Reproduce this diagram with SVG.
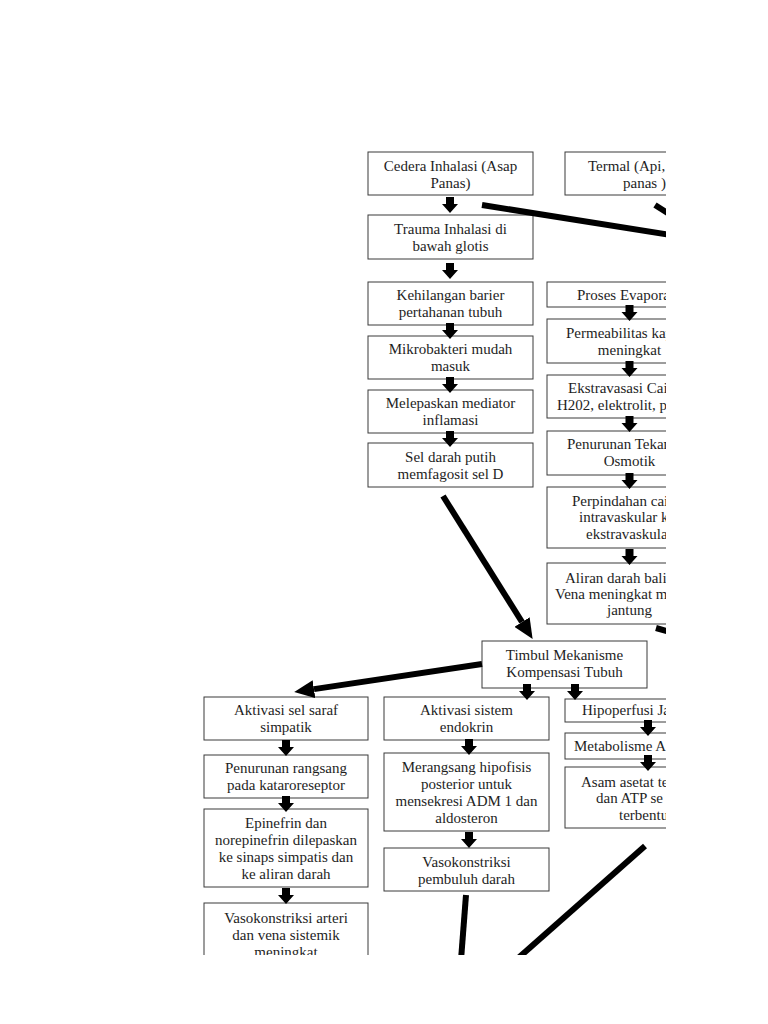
<svg xmlns="http://www.w3.org/2000/svg" xmlns:xlink="http://www.w3.org/1999/xlink" width="768" height="1024" viewBox="0 0 768 1024">
<style>
.box{fill:#fff;stroke:#3a3a3a;stroke-width:1}
text{font-family:"Liberation Serif","Times New Roman",serif;font-size:15px;fill:#1e1e1e}
.c{text-anchor:middle}
.ln{stroke:#000;stroke-width:6;fill:none}
.ba{fill:#000}
</style>
<defs>
<clipPath id="clip"><rect x="0" y="0" width="666" height="955"/></clipPath>
<path id="ba" d="M-4,0 H4 V7 H8 L0,16 L-8,7 H-4 Z"/>
<marker id="ah" viewBox="0 -9 20 18" refX="0" refY="0" markerWidth="20" markerHeight="18" markerUnits="userSpaceOnUse" orient="auto">
<path d="M0,-9 L20,0 L0,9 Z" fill="#000"/>
</marker>
</defs>
<rect width="768" height="1024" fill="#fff"/>
<g clip-path="url(#clip)">
<g id="n1"><rect class="box" x="368" y="152" width="165" height="43"/><text class="c" x="450.5" y="171">Cedera Inhalasi (Asap</text><text class="c" x="450.5" y="188">Panas)</text></g>
<g id="n2"><rect class="box" x="565" y="152" width="165" height="43"/><text x="588" y="171">Termal (Api,</text><text x="623" y="188">panas )</text></g>
<g id="n3"><rect class="box" x="368" y="215" width="165" height="44"/><text class="c" x="450.5" y="234">Trauma Inhalasi di</text><text class="c" x="450.5" y="251">bawah glotis</text></g>
<g id="n4"><rect class="box" x="368" y="282" width="165" height="43"/><text class="c" x="450.5" y="300">Kehilangan barier</text><text class="c" x="450.5" y="317">pertahanan tubuh</text></g>
<g id="n5"><rect class="box" x="368" y="336" width="165" height="43"/><text class="c" x="450.5" y="354">Mikrobakteri mudah</text><text class="c" x="450.5" y="371">masuk</text></g>
<g id="n6"><rect class="box" x="368" y="390" width="165" height="43"/><text class="c" x="450.5" y="408">Melepaskan mediator</text><text class="c" x="450.5" y="425">inflamasi</text></g>
<g id="n7"><rect class="box" x="368" y="443" width="165" height="44"/><text class="c" x="450.5" y="462">Sel darah putih</text><text class="c" x="450.5" y="479">memfagosit sel D</text></g>
<g id="n8"><rect class="box" x="547" y="282" width="165" height="25"/><text x="577" y="300">Proses Evapora</text></g>
<g id="n9"><rect class="box" x="547" y="319" width="165" height="44"/><text x="566" y="338">Permeabilitas kap</text><text class="c" x="629.5" y="355">meningkat</text></g>
<g id="n10"><rect class="box" x="547" y="375" width="165" height="43"/><text x="568" y="393">Ekstravasasi Cai</text><text x="557" y="410">H202, elektrolit, pr</text></g>
<g id="n11"><rect class="box" x="547" y="431" width="165" height="44"/><text x="567" y="449">Penurunan Tekan</text><text class="c" x="629.5" y="466">Osmotik</text></g>
<g id="n12"><rect class="box" x="547" y="487" width="165" height="61"/><text x="572" y="506">Perpindahan cai</text><text x="579" y="522">intravaskular k</text><text x="586" y="539">ekstravaskula</text></g>
<g id="n13"><rect class="box" x="547" y="563" width="165" height="61"/><text x="565" y="583">Aliran darah balik</text><text x="555" y="599">Vena meningkat m</text><text class="c" x="629.5" y="615">jantung</text></g>
<g id="n14"><rect class="box" x="482" y="641" width="165" height="47"/><text class="c" x="564.5" y="660">Timbul Mekanisme</text><text class="c" x="564.5" y="677">Kompensasi Tubuh</text></g>
<g id="n15"><rect class="box" x="204" y="697" width="164" height="43"/><text class="c" x="286" y="715">Aktivasi sel saraf</text><text class="c" x="286" y="732">simpatik</text></g>
<g id="n16"><rect class="box" x="204" y="755" width="164" height="43"/><text class="c" x="286" y="773">Penurunan rangsang</text><text class="c" x="286" y="790">pada kataroreseptor</text></g>
<g id="n17"><rect class="box" x="204" y="809" width="164" height="78"/><text class="c" x="286" y="828">Epinefrin dan</text><text class="c" x="286" y="845">norepinefrin dilepaskan</text><text class="c" x="286" y="862">ke sinaps simpatis dan</text><text class="c" x="286" y="879">ke aliran darah</text></g>
<g id="n18"><rect class="box" x="204" y="903" width="164" height="70"/><text class="c" x="286" y="923">Vasokonstriksi arteri</text><text class="c" x="286" y="940">dan vena sistemik</text><text class="c" x="286" y="957">meningkat</text></g>
<g id="n19"><rect class="box" x="384" y="697" width="165" height="43"/><text class="c" x="466.5" y="715">Aktivasi sistem</text><text class="c" x="466.5" y="732">endokrin</text></g>
<g id="n20"><rect class="box" x="384" y="753" width="165" height="78"/><text class="c" x="466.5" y="772">Merangsang hipofisis</text><text class="c" x="466.5" y="789">posterior untuk</text><text class="c" x="466.5" y="806">mensekresi ADM 1 dan</text><text class="c" x="466.5" y="823">aldosteron</text></g>
<g id="n21"><rect class="box" x="384" y="848" width="165" height="43"/><text class="c" x="466.5" y="867">Vasokonstriksi</text><text class="c" x="466.5" y="884">pembuluh darah</text></g>
<g id="n22"><rect class="box" x="565" y="699" width="165" height="23"/><text x="582" y="715">Hipoperfusi Ja</text></g>
<g id="n23"><rect class="box" x="565" y="733" width="165" height="26"/><text x="574" y="751">Metabolisme A</text></g>
<g id="n24"><rect class="box" x="565" y="767" width="165" height="61"/><text x="581" y="787">Asam asetat te</text><text x="596" y="803">dan ATP se</text><text x="619" y="820">terbentu</text></g>
<g id="connectors">
<use href="#ba" class="ba" x="450" y="197"/>
<use href="#ba" class="ba" x="450" y="263"/>
<use href="#ba" class="ba" x="450" y="323"/>
<use href="#ba" class="ba" x="450" y="377"/>
<use href="#ba" class="ba" x="450" y="431"/>
<use href="#ba" class="ba" x="629.5" y="305"/>
<use href="#ba" class="ba" x="629.5" y="361"/>
<use href="#ba" class="ba" x="629.5" y="416"/>
<use href="#ba" class="ba" x="629.5" y="473"/>
<use href="#ba" class="ba" x="629.5" y="549"/>
<use href="#ba" class="ba" x="527" y="684"/>
<use href="#ba" class="ba" x="575" y="684"/>
<use href="#ba" class="ba" x="286" y="740"/>
<use href="#ba" class="ba" x="286" y="796"/>
<use href="#ba" class="ba" x="286" y="888"/>
<use href="#ba" class="ba" x="469" y="739"/>
<use href="#ba" class="ba" x="469" y="832"/>
<use href="#ba" class="ba" x="648" y="720"/>
<use href="#ba" class="ba" x="648" y="755"/>
<line class="ln" x1="482" y1="205" x2="690" y2="238"/>
<line class="ln" x1="655" y1="205" x2="680" y2="221"/>
<line class="ln" x1="656" y1="628" x2="680" y2="635"/>
<line class="ln" x1="443" y1="496" x2="522" y2="622" marker-end="url(#ah)"/>
<line class="ln" x1="482" y1="664" x2="314" y2="689.1" marker-end="url(#ah)"/>
<line class="ln" x1="466" y1="895" x2="461" y2="960"/>
<line class="ln" x1="645" y1="846" x2="516" y2="960"/>
</g>
</g>
</svg>
